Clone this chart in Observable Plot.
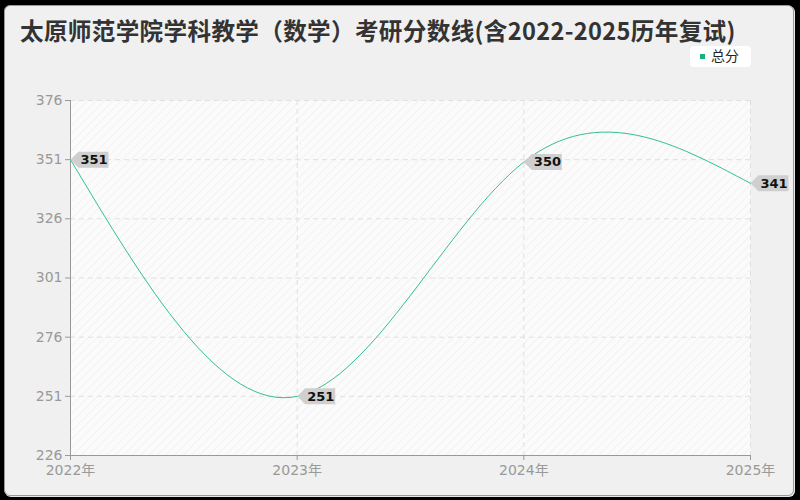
<!DOCTYPE html>
<html>
<head>
<meta charset="utf-8">
<script src="https://cdn.jsdelivr.net/npm/d3@7"></script>
<script src="https://cdn.jsdelivr.net/npm/@observablehq/plot@0.6"></script>
<style>
  html, body { margin: 0; padding: 0; background: #000; }
  #wrap { position: relative; width: 800px; height: 500px; background: #000; overflow: hidden; }
  #card { position: absolute; left: 4px; top: 5px; width: 788px; height: 489px; background: #f0f0f0; border: 1px solid #9a9a9a; border-radius: 6px; box-shadow: 1px 1px 0 #e8e8e8; }
  #title { position: absolute; left: 20px; top: 15px; font-family: "Noto Sans CJK SC", "Noto Sans", sans-serif; font-weight: bold; font-size: 23.6px; color: #333; white-space: nowrap; letter-spacing: 0.33px; line-height: 1.3; }
  #legend { position: absolute; left: 690px; top: 46px; width: 61px; height: 21px; background: #fff; border-radius: 4px; font-family: "Noto Sans CJK SC", sans-serif; font-size: 14px; color: #222; }
  #legend .sw { position: absolute; left: 10px; top: 8px; width: 5px; height: 5px; background: #1aaf7e; }
  #legend .lb { position: absolute; left: 21px; top: -1px; }
  #chart { position: absolute; left: 0; top: 0; }
</style>
</head>
<body>
<div id="wrap">
  <div id="card"></div>
  <div id="title">太原师范学院学科教学（数学）考研分数线(含2022-2025历年复试)</div>
  <div id="legend"><span class="sw"></span><span class="lb">总分</span></div>
  <div id="chart"></div>
</div>
<script>
const years = [2022, 2023, 2024, 2025];
const scores = [351, 251, 350, 341];
const yTicks = [226, 251, 276, 301, 326, 351, 376];
const seriesName = "总分";

const data = years.map((y, i) => ({year: y, score: scores[i]}));

const tagSymbol = {
  draw(ctx) {
    ctx.moveTo(0, 0);
    ctx.lineTo(8, -8);
    ctx.lineTo(38, -8);
    ctx.lineTo(38, 8);
    ctx.lineTo(8, 8);
    ctx.closePath();
  }
};

const plot = Plot.plot({
  width: 800,
  height: 500,
  marginLeft: 70,
  marginRight: 50,
  marginTop: 100,
  marginBottom: 45,
  style: {background: "transparent", fontFamily: "'DejaVu Sans', 'Noto Sans CJK SC', sans-serif"},
  x: {domain: [2022, 2025]},
  y: {domain: [226, 376]},
  marks: [
    Plot.frame({fill: "url(#hatch)", stroke: "none"}),
    Plot.gridY(yTicks, {stroke: "#e0e0e0", strokeOpacity: 1, strokeDasharray: "5,4"}),
    Plot.gridX(years, {stroke: "#e0e0e0", strokeOpacity: 1, strokeDasharray: "5,4"}),
    Plot.ruleX([2022], {stroke: "#999"}),
    Plot.ruleY([226], {stroke: "#999"}),
    Plot.axisY({ticks: yTicks, tickSize: 5, tickPadding: 3, fontSize: 14, color: "#999", stroke: "#999", label: null}),
    Plot.axisX({ticks: years, tickSize: 5, tickPadding: 5, fontSize: 14, color: "#999", stroke: "#999", label: null, tickFormat: d => d + "年"}),
    Plot.line(data, {x: "year", y: "score", curve: "natural", stroke: "#33c08c", strokeWidth: 1}),
    Plot.dot(data, {x: "year", y: "score", symbol: tagSymbol, fill: "#cfcfcf", stroke: "none"}),
    Plot.text(data, {x: "year", y: "score", text: d => String(d.score), dx: 10, textAnchor: "start", fontWeight: "bold", fontSize: 13, fill: "#111"})
  ]
});

const svg = d3.select(plot);
const defs = svg.insert("defs", ":first-child");
const pat = defs.append("pattern").attr("id", "hatch").attr("patternUnits", "userSpaceOnUse")
  .attr("width", 6).attr("height", 6).attr("patternTransform", "rotate(45)");
pat.append("rect").attr("width", 6).attr("height", 6).attr("fill", "#fbfbfb");
pat.append("line").attr("x1", 0).attr("y1", 0).attr("x2", 0).attr("y2", 6).attr("stroke", "#f0f0f0").attr("stroke-width", 1.5);

document.getElementById("chart").appendChild(plot);
</script>
</body>
</html>
